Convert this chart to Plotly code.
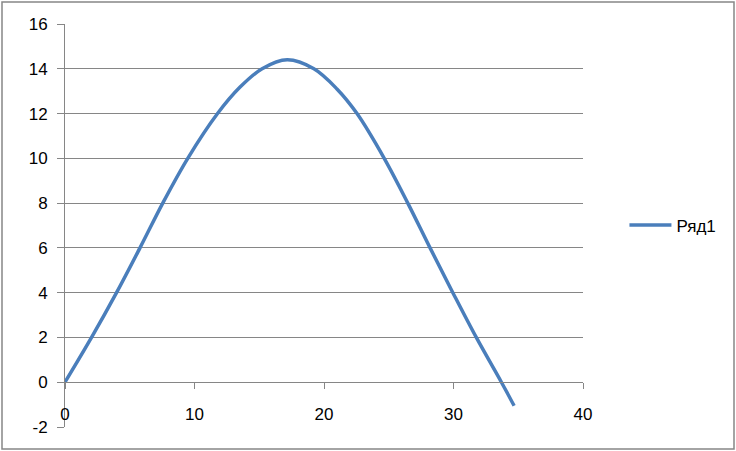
import plotly.graph_objects as go

# values
x_vals = [0, 2.05, 3.98, 5.79, 7.55, 9.48, 11.78, 13.5, 15.22, 17.16,
          19.22, 21.0, 22.55, 24.65, 26.47, 28.19, 29.95, 31.76, 33.7, 34.68]
y_vals = [0, 2, 4, 6, 8, 10, 12, 13.17, 14, 14.4,
          14, 13.1, 12, 10, 8, 6, 4, 2, 0, -1.05]
series_name = 'Ряд1'

x_ticks = [0, 10, 20, 30, 40]
y_ticks = [-2, 0, 2, 4, 6, 8, 10, 12, 14, 16]

W, H = 736, 451
L, R, T, B = 65, 153, 24, 24
grid = '#868686'
font = dict(family='Liberation Sans, Arial, sans-serif', size=17, color='#000000')

fig = go.Figure()
fig.add_trace(go.Scatter(
    x=x_vals, y=y_vals, mode='lines', name=series_name,
    line=dict(color='#4A7EBB', width=3.5, shape='spline', smoothing=1.0),
    showlegend=True
))

pw, ph = W - L - R, H - T - B
# outer chart border
fig.add_shape(type='rect', xref='paper', yref='paper',
              x0=(2 - L) / pw, x1=(W - 2 - L) / pw,
              y0=-(B - 2) / ph, y1=1 + (T - 2) / ph,
              line=dict(color=grid, width=1.5), layer='below')

y_min, y_max = y_ticks[0], y_ticks[-1]

fig.update_layout(
    width=W, height=H,
    margin=dict(l=L, r=R, t=T, b=B),
    paper_bgcolor='white', plot_bgcolor='white',
    font=font,
    xaxis=dict(
        range=[x_ticks[0], x_ticks[-1]], tickvals=x_ticks,
        ticktext=[str(v) for v in x_ticks],
        showgrid=False, zeroline=False,
        showline=True, linecolor=grid, linewidth=1,
        ticks='outside', ticklen=6, tickcolor=grid,
        anchor='free', position=(0 - y_min) / (y_max - y_min),
        ticklabelstandoff=10, automargin=False,
    ),
    yaxis=dict(
        range=[y_min, y_max], tickvals=y_ticks,
        ticktext=[str(v) for v in y_ticks],
        showgrid=True, gridcolor=grid, gridwidth=1, zeroline=False,
        showline=True, linecolor=grid, linewidth=1,
        ticks='outside', ticklen=7, tickcolor=grid,
        ticklabelstandoff=6, automargin=False,
    ),
    legend=dict(
        x=1.08, y=0.5, xanchor='left', yanchor='middle',
        bgcolor='rgba(0,0,0,0)', font=font, itemwidth=42,
    ),
)

fig.write_html("out.html", config={'displayModeBar': False},
               post_script="document.body.style.margin='0';")
